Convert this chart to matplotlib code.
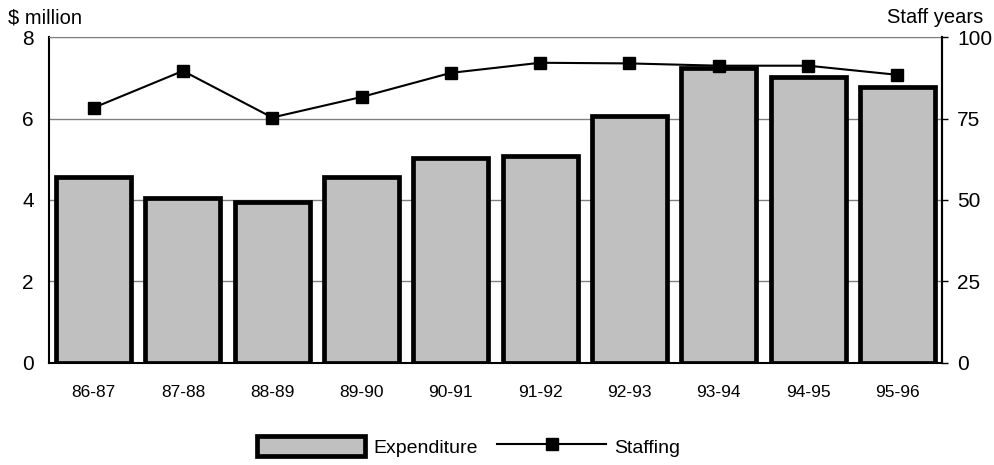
import numpy as np
import matplotlib.pyplot as plt
from matplotlib.lines import Line2D
from matplotlib.patches import Patch

plt.rcParams['font.family'] = ['Liberation Sans', 'DejaVu Sans']

years = ['86-87', '87-88', '88-89', '89-90', '90-91',
         '91-92', '92-93', '93-94', '94-95', '95-96']
expenditure = [4.56, 4.06, 3.94, 4.57, 5.02, 5.08, 6.06, 7.23, 7.02, 6.78]
staffing = [78.3, 89.6, 75.3, 81.6, 89.0, 92.1, 91.9, 91.2, 91.2, 88.4]

fig = plt.figure(figsize=(9.94, 4.65), dpi=100)
ax = fig.add_axes([0.0493, 0.2194, 0.8984, 0.7010])
ax2 = ax.twinx()

x = np.arange(len(years))

# bars on the $ million axis
ax.bar(x, expenditure, width=0.84, color='#c0c0c0', edgecolor='black',
       linewidth=3.4, zorder=2)
ax.set_ylim(0, 8)
ax.set_xlim(-0.5, len(years) - 0.5)
ax.set_yticks([0, 2, 4, 6, 8])
ax.grid(axis='y', color='#808080', linewidth=1, zorder=0)
ax.set_axisbelow(True)
ax.tick_params(axis='y', length=0, pad=11, labelsize=15)
ax.set_xticks(x)
ax.set_xticklabels(years)
ax.tick_params(axis='x', length=0, pad=16, labelsize=12.5)
for s in ['left', 'right', 'bottom']:
    ax.spines[s].set_linewidth(1.5)
ax.spines['top'].set_color('#808080')

# staffing line on the right axis
ax2.plot(x, staffing, color='black', linewidth=1.5, marker='s',
         markersize=8, zorder=3)
ax2.set_ylim(0, 100)
ax2.set_yticks([0, 25, 50, 75, 100])
ax2.tick_params(axis='y', length=4, width=1, color='black', pad=7, labelsize=15)
ax2.spines['right'].set_linewidth(1.5)
ax2.spines['top'].set_visible(False)
ax2.spines['left'].set_visible(False)
ax2.spines['bottom'].set_visible(False)

fig.text(0.008, 0.962, '$ million', fontsize=14.5, va='center', ha='left')
fig.text(0.989, 0.962, 'Staff years', fontsize=14.5, va='center', ha='right')

handles = [
    Patch(facecolor='#c0c0c0', edgecolor='black', linewidth=3.4, label='Expenditure'),
    Line2D([], [], color='black', linewidth=1.5, marker='s', markersize=8,
           label='Staffing'),
]
fig.legend(handles=handles, loc='center', bbox_to_anchor=(0.471, 0.040),
           ncol=2, frameon=False, fontsize=14, handlelength=5.6,
           handleheight=1.15, handletextpad=0.4, columnspacing=1.0)

fig.savefig('out.png', dpi=100)
